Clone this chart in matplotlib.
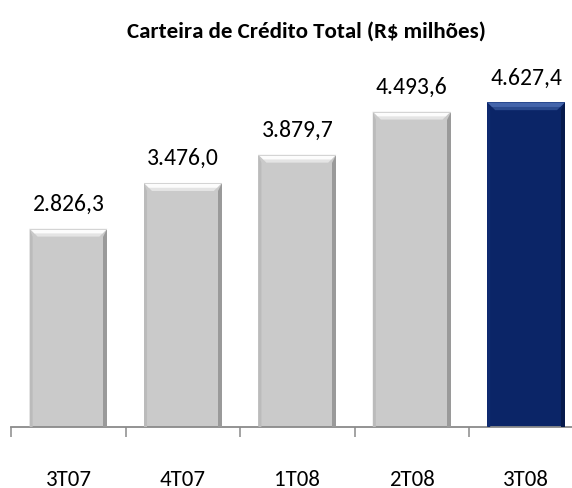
import matplotlib
matplotlib.use("Agg")
import matplotlib.pyplot as plt
from matplotlib.patches import Polygon

categories = ["3T07", "4T07", "1T08", "2T08", "3T08"]
values = [2826.3, 3476.0, 3879.7, 4493.6, 4627.4]
value_labels = ["2.826,3", "3.476,0", "3.879,7", "4.493,6", "4.627,4"]
title = "Carteira de Crédito Total (R$ milhões)"

plt.rcParams["font.family"] = ["Carlito", "DejaVu Sans"]

W, H, DPI = 572, 489, 100
fig = plt.figure(figsize=(W / DPI, H / DPI), dpi=DPI)
ax_left, ax_bottom_px, ax_top_px = 11.3, 428, 77
ax_w_px = 572.0
ax = fig.add_axes([ax_left / W, (H - ax_bottom_px) / H, ax_w_px / W, (ax_bottom_px - ax_top_px) / H])

ymax = 5000
ax.set_xlim(-0.5, len(categories) - 0.5)
ax.set_ylim(0, ymax)

grey = "#CACACA"
navy = "#0B2567"
colors = [grey] * (len(categories) - 1) + [navy]
x = list(range(len(categories)))
bars = ax.bar(x, values, width=0.68, color=colors, edgecolor="none", zorder=2)

px_x = len(categories) / ax_w_px
px_y = ymax / (ax_bottom_px - ax_top_px)
b = 8
for bar, c in zip(bars, colors):
    L = bar.get_x(); R = L + bar.get_width(); T = bar.get_height()
    if c == grey:
        top_c, top2_c, right_c, left_c, line_c = "#FCFCFC", "#E4E4E4", "#9A9A9A", "#BBBBBB", "#D4D4D4"
    else:
        top_c, top2_c, right_c, left_c, line_c = "#4465AB", "#2A4A8E", "#061A4C", "#0E2A70", "#2A4A90"
    ax.add_patch(Polygon([(L, T), (R, T), (R - b * px_x, T - b * px_y), (L + b * px_x, T - b * px_y)],
                         closed=True, facecolor=top2_c, edgecolor="none", zorder=3))
    ax.add_patch(Polygon([(L, T), (R, T), (R - 0.6 * b * px_x, T - 0.6 * b * px_y), (L + 0.6 * b * px_x, T - 0.6 * b * px_y)],
                         closed=True, facecolor=top_c, edgecolor="none", zorder=3))
    ax.add_patch(Polygon([(R, T), (R, 0), (R - 4 * px_x, 0), (R - 4 * px_x, T - b * px_y)],
                         closed=True, facecolor=right_c, edgecolor="none", zorder=3))
    ax.add_patch(Polygon([(L, T), (L + 3 * px_x, T - b * px_y), (L + 3 * px_x, 0), (L, 0)],
                         closed=True, facecolor=left_c, edgecolor="none", zorder=3))
    ax.add_patch(Polygon([(L, T), (R, T), (R, T - 1.2 * px_y), (L, T - 1.2 * px_y)],
                         closed=True, facecolor=line_c, edgecolor="none", zorder=4))

for xi, v, lab in zip(x, values, value_labels):
    ax.annotate(lab, (xi, v), xytext=(0, 13.5), textcoords="offset points",
                ha="center", va="baseline", fontsize=17, color="#000000")

for s in ["top", "right", "left"]:
    ax.spines[s].set_visible(False)
ax.spines["bottom"].set_color("#8A8A8A")
ax.spines["bottom"].set_linewidth(1.3)
ax.set_yticks([])
ax.set_xticks(x)
ax.set_xticklabels(categories, fontsize=16.5)
ax.tick_params(axis="x", which="major", length=0, pad=30.5)
ax.set_xticks([i - 0.5 for i in range(len(categories) + 1)], minor=True)
ax.tick_params(axis="x", which="minor", length=7.5, width=1.1, color="#8A8A8A", direction="out")

fig.text(306 / W, (H - 38) / H, title, ha="center", va="baseline", fontsize=16.5, fontweight="bold")

fig.savefig("out.png", dpi=DPI)
